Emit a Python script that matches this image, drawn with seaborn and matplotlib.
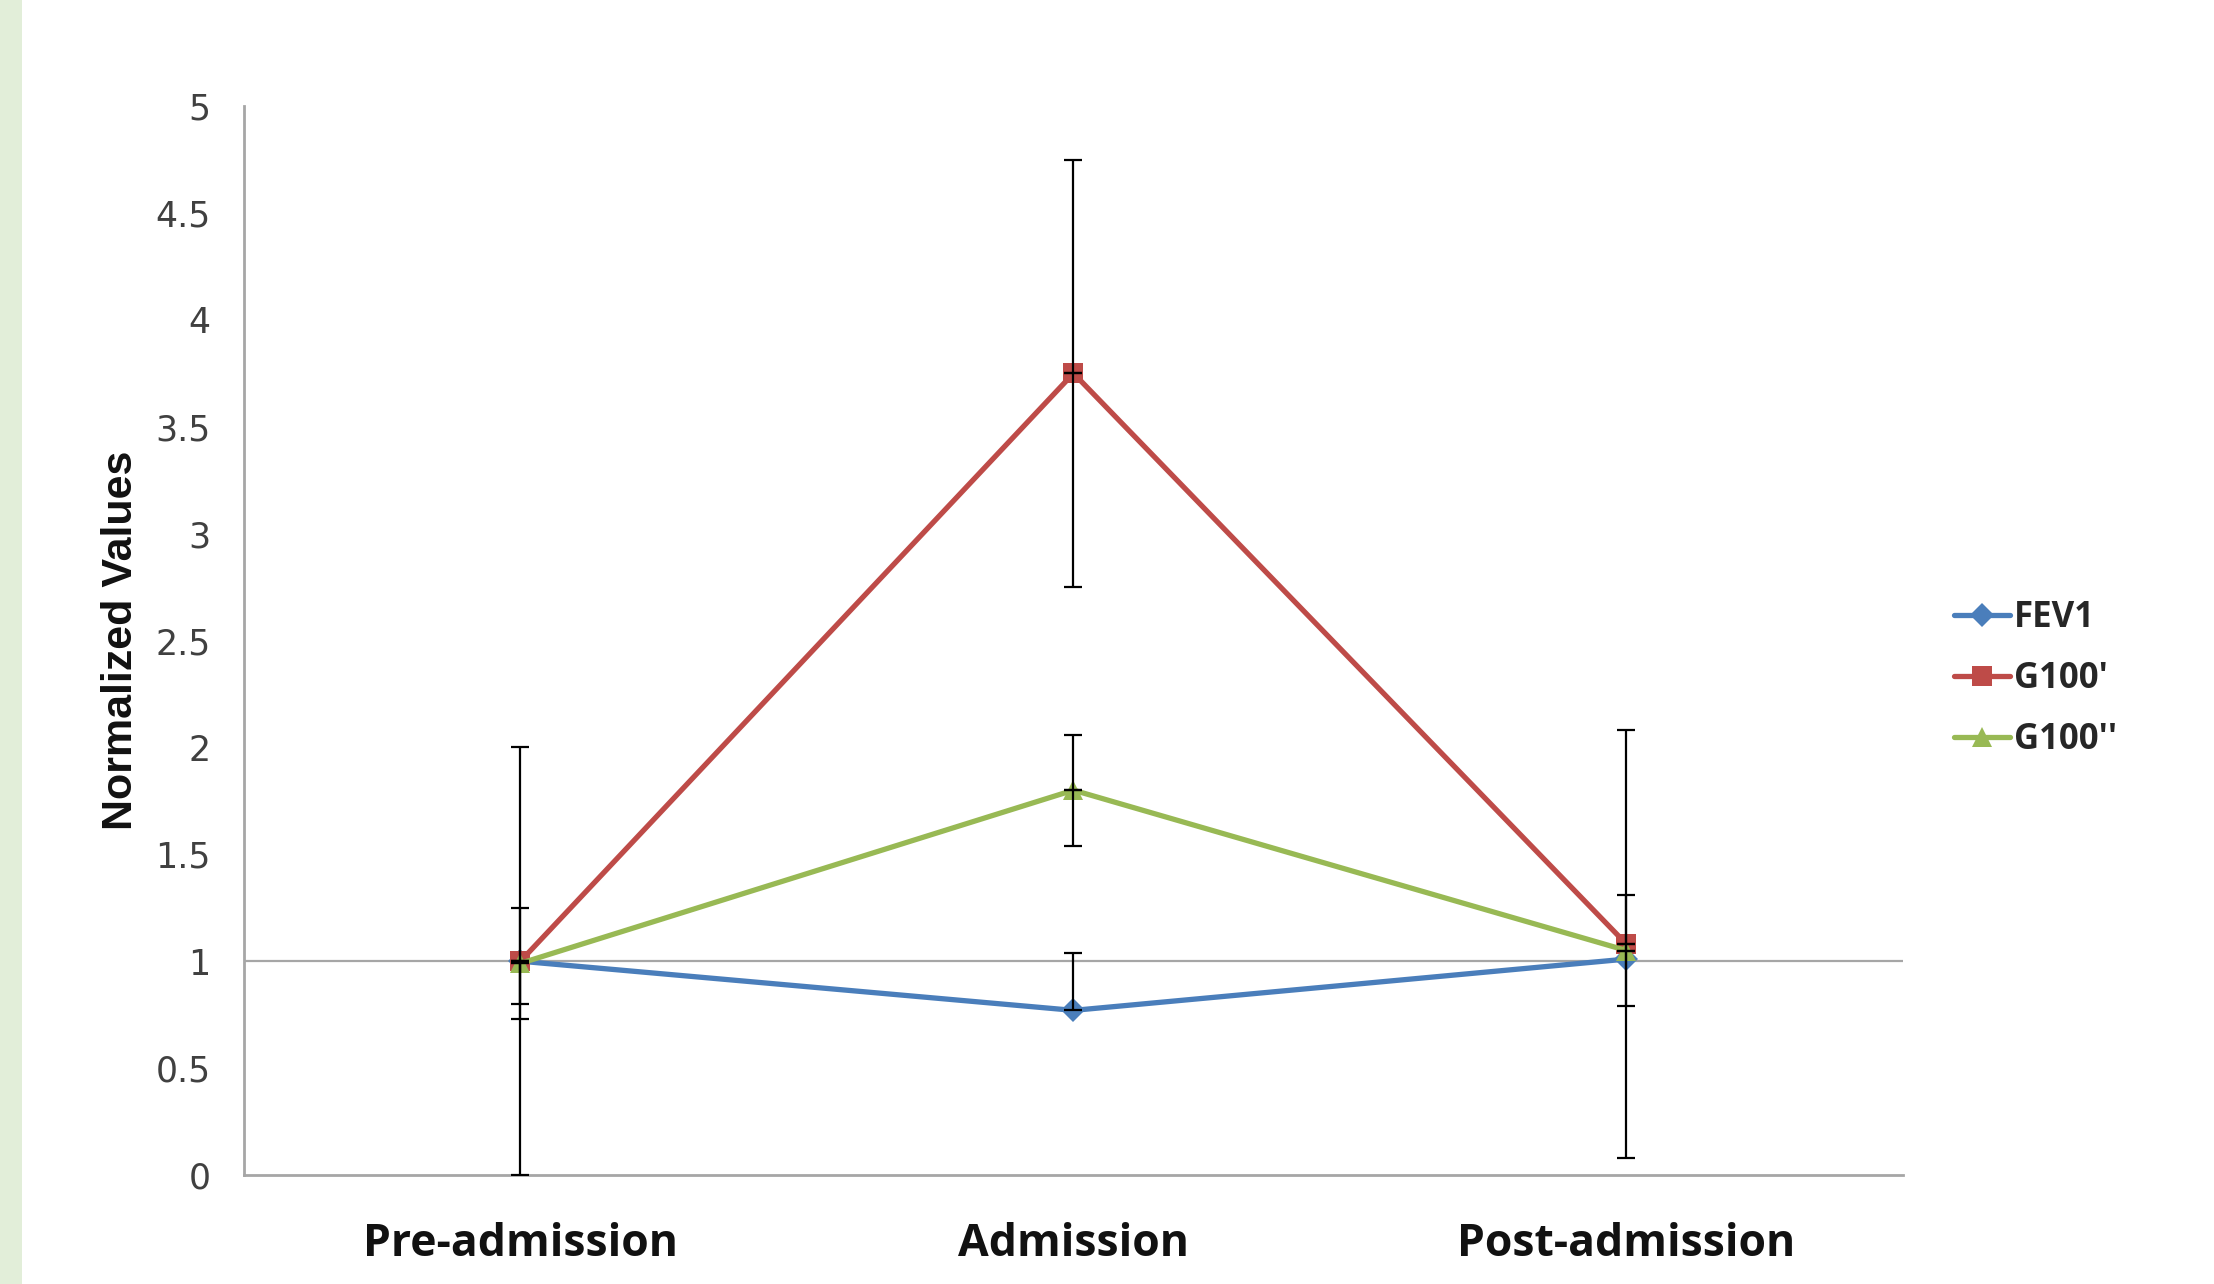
import numpy as np
import pandas as pd
import matplotlib
matplotlib.use("Agg")
import matplotlib.pyplot as plt
from matplotlib.colors import to_hex
from matplotlib.patches import Rectangle
import seaborn as sns

# ---- data ----
stages = ["Pre-admission", "Admission", "Post-admission"]
series_names = ["FEV1", "G100'", "G100''"]

fev1 = [1.00, 0.77, 1.01]
g100_prime = [1.00, 3.75, 1.08]
g100_dprime = [0.99, 1.80, 1.05]

# error bar extents (below, above); 0 means no bar drawn on that side
fev1_err_lo = [0.20, 0.00, 0.00]
fev1_err_hi = [0.00, 0.27, 0.00]
g100_prime_err_lo = [1.00, 1.00, 1.00]
g100_prime_err_hi = [1.00, 1.00, 1.00]
g100_dprime_err_lo = [0.26, 0.26, 0.26]
g100_dprime_err_hi = [0.26, 0.26, 0.26]

colors = {"FEV1": "#4a7ebb", "G100'": "#be4b48", "G100''": "#98b954"}
markers = {"FEV1": "D", "G100'": "s", "G100''": "^"}
msizes = {"FEV1": 6.0, "G100'": 7.5, "G100''": 7.5}

values = {"FEV1": fev1, "G100'": g100_prime, "G100''": g100_dprime}
errs = {
    "FEV1": (fev1_err_lo, fev1_err_hi),
    "G100'": (g100_prime_err_lo, g100_prime_err_hi),
    "G100''": (g100_dprime_err_lo, g100_dprime_err_hi),
}

df = pd.DataFrame(
    [(s, st, v) for s in series_names for st, v in zip(stages, values[s])],
    columns=["series", "stage", "value"],
)

sns.set_theme(style="white")
plt.rcParams["font.family"] = ["Open Sans", "DejaVu Sans"]

fig = plt.figure(figsize=(11.07, 6.42), dpi=200)
fig.patch.set_facecolor("white")
fig.add_artist(Rectangle((0, 0), 22 / 2214, 1, transform=fig.transFigure,
                         facecolor="#e2eed9", edgecolor="none", zorder=0))

ax = fig.add_axes([0.1102, 0.0849, 0.7493, 0.8325])

ax.axhline(1.0, color="#a6a6a6", lw=0.8, zorder=1)

sns.lineplot(data=df, x="stage", y="value", hue="series", style="series",
             hue_order=series_names, style_order=series_names,
             palette=colors, markers=markers, dashes=False, sort=False,
             linewidth=1.9, markeredgewidth=0, ax=ax, zorder=3)

# per-series marker sizes, matched through the line colour
size_by_color = {colors[s]: msizes[s] for s in series_names}
for line in ax.get_lines():
    c = to_hex(line.get_color())
    if c in size_by_color:
        line.set_markersize(size_by_color[c])

# error bars
xpos = np.arange(len(stages))
for s in series_names:
    lo, hi = errs[s]
    for x, y, l, h in zip(xpos, values[s], lo, hi):
        if l > 0:
            ax.errorbar([x], [y], yerr=[[l], [0]], fmt="none", ecolor="black",
                        elinewidth=0.8, capsize=3.2, capthick=0.8, zorder=4)
        if h > 0:
            ax.errorbar([x], [y], yerr=[[0], [h]], fmt="none", ecolor="black",
                        elinewidth=0.8, capsize=3.2, capthick=0.8, zorder=4)

ax.set_xlim(-0.5, 2.5)
ax.set_ylim(0, 5)
ax.set_yticks(np.arange(0, 5.01, 0.5))
ax.set_yticklabels(["0", "0.5", "1", "1.5", "2", "2.5", "3", "3.5", "4", "4.5", "5"],
                   family=["DejaVu Sans"])
ax.set_xticks(xpos)
ax.set_xticklabels(stages, fontsize=16, fontweight="bold", color="#111111")
ax.tick_params(axis="x", length=0, pad=17)
ax.tick_params(axis="y", length=0, pad=12, labelsize=12.5, labelcolor="#404040")

ax.set_xlabel("")
ax.set_ylabel("Normalized Values", fontsize=15.5, fontweight="bold",
              family=["Liberation Sans", "DejaVu Sans"], labelpad=5,
              color="#111111")

for side in ["top", "right"]:
    ax.spines[side].set_visible(False)
for side in ["left", "bottom"]:
    ax.spines[side].set_color("#a6a6a6")
    ax.spines[side].set_linewidth(1.0)
ax.set_facecolor("white")

handles, labels = ax.get_legend_handles_labels()
leg = ax.legend(handles, labels, loc="center left", bbox_to_anchor=(0.8686, 0.471),
                bbox_transform=fig.transFigure, frameon=False,
                prop={"weight": "bold", "size": 12.5}, handlelength=1.6,
                handletextpad=0.12, labelspacing=0.72)
for h, lab in zip(leg.legend_handles, labels):
    if lab in msizes:
        h.set_markersize(msizes[lab])

fig.savefig("out.png", dpi=200)
